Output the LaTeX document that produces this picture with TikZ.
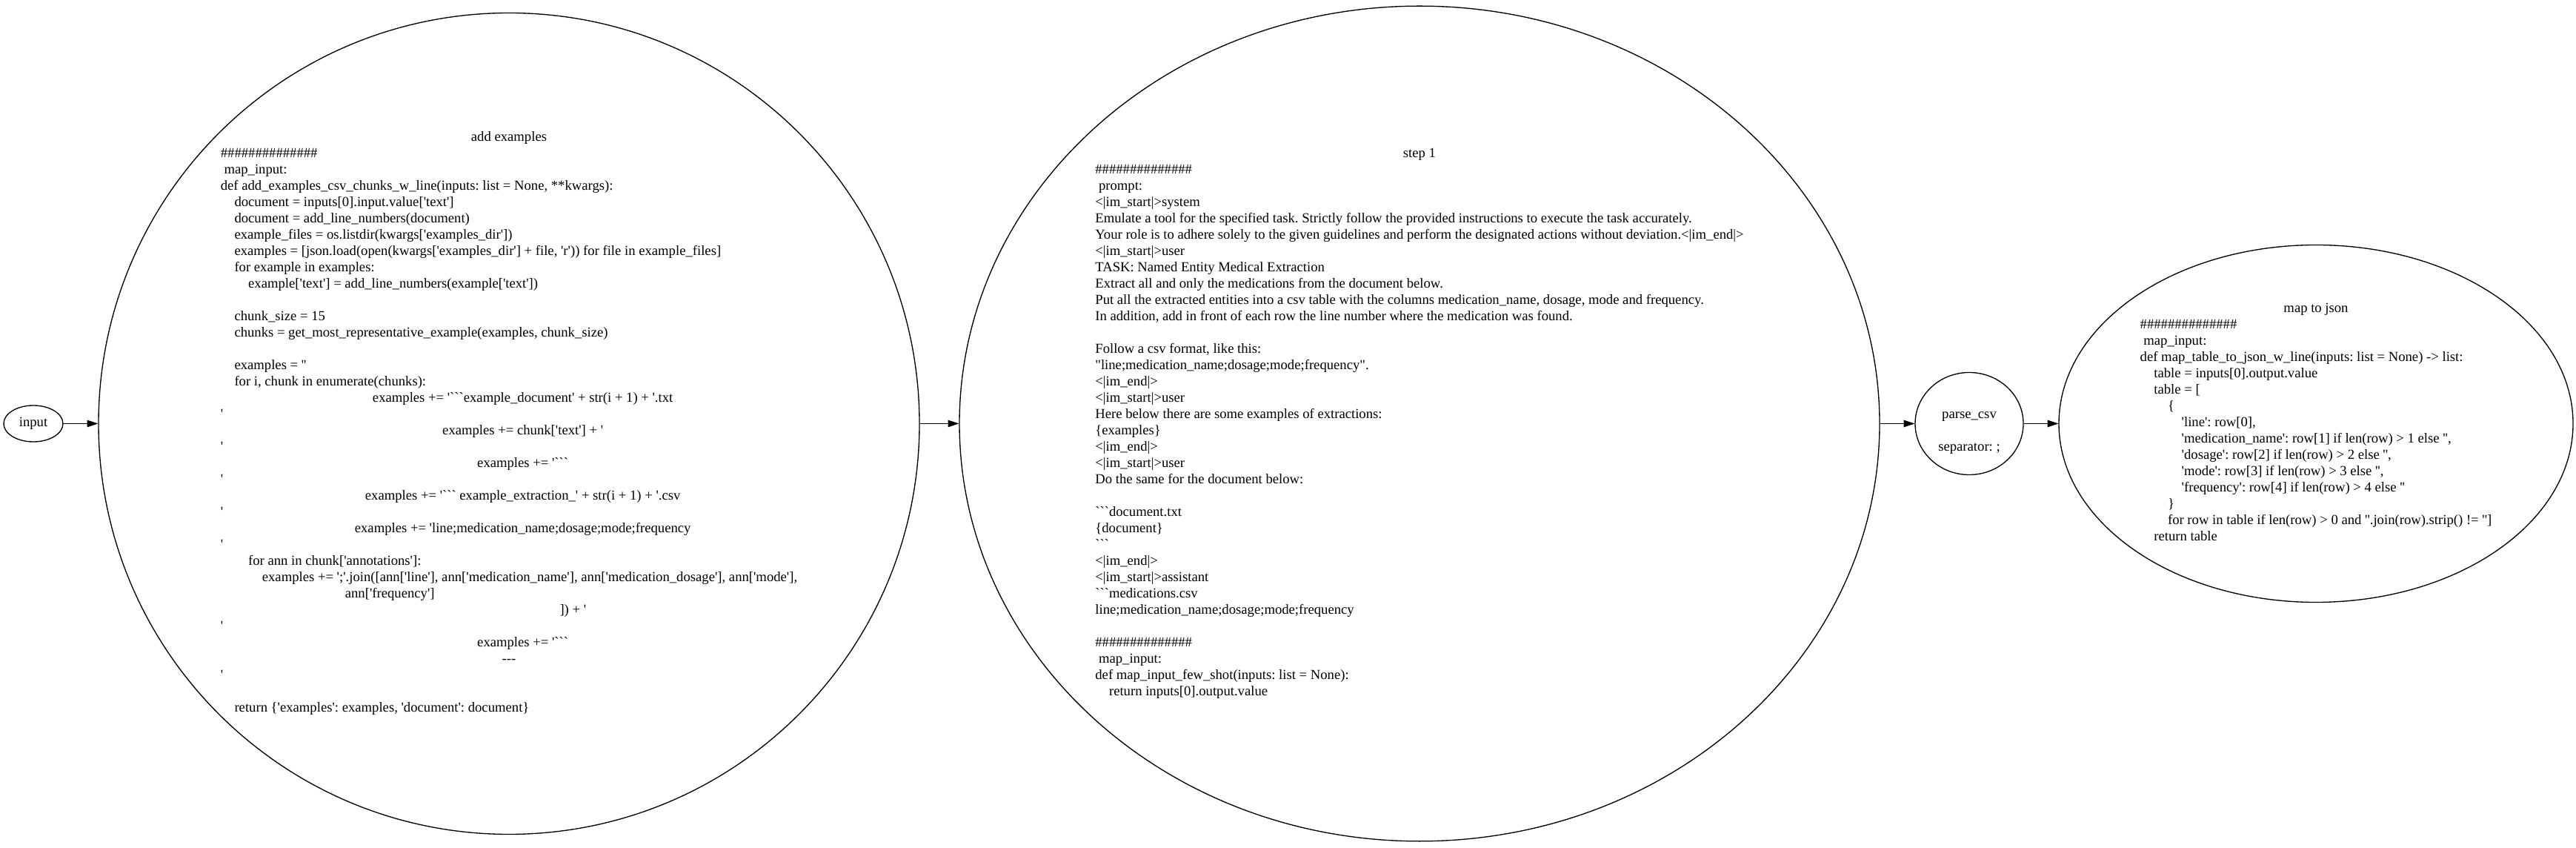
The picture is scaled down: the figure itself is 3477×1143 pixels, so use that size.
\documentclass[tikz,border=0pt]{standalone}
\usepackage{fontspec}
\setmainfont{Liberation Serif}[Ligatures=TeXOff]
\usetikzlibrary{shapes.geometric,arrows.meta}
\newcommand\myind[1]{\hspace*{#1\fontdimen2\font}}
\newcommand\mycl[1]{\multicolumn{1}{@{}c@{}}{#1}}
\newcommand\hashes{\#\#\#\#\#\#\#\#\#\#\#\#\#\#}
\begin{document}
\begin{tikzpicture}[x=0.75pt,y=0.75pt,
  shp/.style={draw, ellipse, line width=1pt, inner sep=0pt, font=\fontsize{14pt}{16.5pt}\selectfont\frenchspacing},
  txt/.style={inner sep=0pt, font=\fontsize{14pt}{16.5pt}\selectfont\frenchspacing},
  arr/.style={-{Triangle[length=11pt,width=7pt]}, line width=1pt}]
\useasboundingbox (0,0) rectangle (3477,1143);
% shapes
\node[shp, minimum width=60pt, minimum height=36.75pt] (input) at (45,571.5) {input};
\node[shp, minimum width=831pt, minimum height=831pt] (add) at (687,571.5) {};
\node[shp, minimum width=931.5pt, minimum height=845pt] (step1) at (1916,571.5) {};
\node[shp, minimum width=109.5pt, minimum height=103.5pt] (parse) at (2658,571.5) {\begin{tabular}{@{}c@{}}\mbox{}\\ parse\_csv\\ \\ separator: ;\end{tabular}};
\node[shp, minimum width=520.5pt, minimum height=361.5pt] (map) at (3126,571.5) {};
% labels
\node[txt] (addtxt) at (add.center) {\begin{tabular}{@{}l@{}}
\mycl{add examples}\\
\hashes\\
\myind{1}map\_input:\\
def add\_examples\_csv\_chunks\_w\_line(inputs: list = None, **kwargs):\\
\myind{4}document = inputs[0].input.value['text']\\
\myind{4}document = add\_line\_numbers(document)\\
\myind{4}example\_files = os.listdir(kwargs['examples\_dir'])\\
\myind{4}examples = [json.load(open(kwargs['examples\_dir'] + file, 'r')) for file in example\_files]\\
\myind{4}for example in examples:\\
\myind{8}example['text'] = add\_line\_numbers(example['text'])\\
\\
\myind{4}chunk\_size = 15\\
\myind{4}chunks = get\_most\_representative\_example(examples, chunk\_size)\\
\\
\myind{4}examples = ''\\
\myind{4}for i, chunk in enumerate(chunks):\\
\mycl{\myind{8}examples += '```example\_document' + str(i + 1) + '.txt}\\
'\\
\mycl{\myind{8}examples += chunk['text'] + '}\\
'\\
\mycl{\myind{8}examples += '```}\\
'\\
\mycl{\myind{8}examples += '``` example\_extraction\_' + str(i + 1) + '.csv}\\
'\\
\mycl{\myind{8}examples += 'line;medication\_name;dosage;mode;frequency}\\
'\\
\myind{8}for ann in chunk['annotations']:\\
\myind{12}examples += ';'.join([ann['line'], ann['medication\_name'], ann['medication\_dosage'], ann['mode'],\\
\myind{36}ann['frequency']\\
\mycl{\myind{37}]) + '}\\
'\\
\mycl{\myind{8}examples += '```}\\
\mycl{---}\\
'\\
\\
\myind{4}return \{'examples': examples, 'document': document\}
\end{tabular}};
\node[txt] (steptxt) at (step1.center) {\begin{tabular}{@{}l@{}}
\mycl{step 1}\\
\hashes\\
\myind{1}prompt:\\
<|im\_start|>system\\
Emulate a tool for the specified task. Strictly follow the provided instructions to execute the task accurately.\\
Your role is to adhere solely to the given guidelines and perform the designated actions without deviation.<|im\_end|>\\
<|im\_start|>user\\
TASK: Named Entity Medical Extraction\\
Extract all and only the medications from the document below.\\
Put all the extracted entities into a csv table with the columns medication\_name, dosage, mode and frequency.\\
In addition, add in front of each row the line number where the medication was found.\\
\\
Follow a csv format, like this:\\
"line;medication\_name;dosage;mode;frequency".\\
<|im\_end|>\\
<|im\_start|>user\\
Here below there are some examples of extractions:\\
\{examples\}\\
<|im\_end|>\\
<|im\_start|>user\\
Do the same for the document below:\\
\\
```document.txt\\
\{document\}\\
```\\
<|im\_end|>\\
<|im\_start|>assistant\\
```medications.csv\\
line;medication\_name;dosage;mode;frequency\\
\\
\hashes\\
\myind{1}map\_input:\\
def map\_input\_few\_shot(inputs: list = None):\\
\myind{4}return inputs[0].output.value
\end{tabular}};
\node[txt] (maptxt) at (map.center) {\begin{tabular}{@{}l@{}}
\mycl{map to json}\\
\hashes\\
\myind{1}map\_input:\\
def map\_table\_to\_json\_w\_line(inputs: list = None) -> list:\\
\myind{4}table = inputs[0].output.value\\
\myind{4}table = [\\
\myind{8}\{\\
\myind{12}'line': row[0],\\
\myind{12}'medication\_name': row[1] if len(row) > 1 else '',\\
\myind{12}'dosage': row[2] if len(row) > 2 else '',\\
\myind{12}'mode': row[3] if len(row) > 3 else '',\\
\myind{12}'frequency': row[4] if len(row) > 4 else ''\\
\myind{8}\}\\
\myind{8}for row in table if len(row) > 0 and ''.join(row).strip() != '']\\
\myind{4}return table
\end{tabular}};
% connectors
\draw[arr] (input) -- (add);
\draw[arr] (add) -- (step1);
\draw[arr] (step1) -- (parse);
\draw[arr] (parse) -- (map);
\end{tikzpicture}
\end{document}
